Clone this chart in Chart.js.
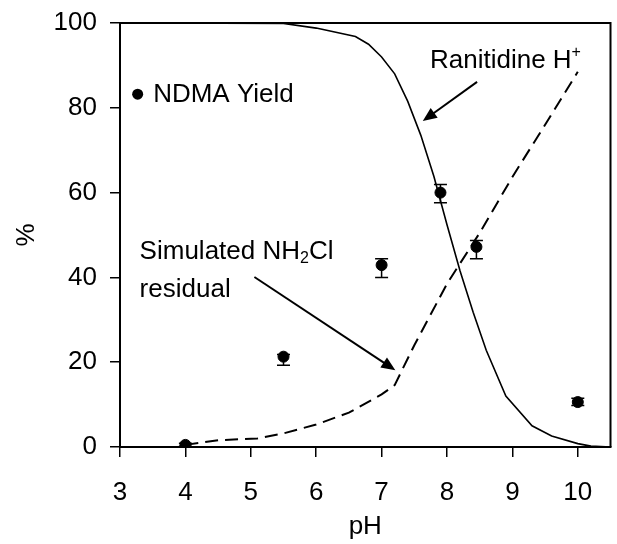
<!DOCTYPE html>
<html>
<head>
<meta charset="utf-8">
<script src="https://cdn.jsdelivr.net/npm/chart.js@4.4.1/dist/chart.umd.min.js"></script>
<style>
  html, body { margin: 0; padding: 0; background: #fff; }
  #chart { display: block; }
</style>
</head>
<body>
<canvas id="chart" width="617" height="544"></canvas>
<script>
// NDMA yield measurements (with error bar limits)
var ndmaPh = [4, 5.5, 7, 7.9, 8.45, 10];
var ndmaYield = [0.5, 21.3, 42.9, 60.0, 47.2, 10.6];
var ndmaHigh = [0.9, 21.8, 44.4, 61.9, 48.7, 11.5];
var ndmaLow = [0.2, 19.3, 40.0, 57.6, 44.4, 9.8];

// Ranitidine H+ fraction
var ranitidinePh = [3.6, 5.5, 6.0, 6.6, 6.8, 7.0, 7.2, 7.4, 7.6, 7.8, 8.0, 8.2, 8.4, 8.6, 8.9, 9.3, 9.6, 10.0, 10.2, 10.5];
var ranitidineH = [100, 99.9, 98.8, 96.8, 95, 92, 88, 81.5, 73.5, 63.8, 52.4, 41.5, 31.8, 22.8, 12, 5, 2.6, 0.8, 0.2, 0];

// Simulated NH2Cl residual
var nh2clPh = [4, 4.5, 5.1, 5.5, 6, 6.5, 7, 7.2, 7.5, 8, 8.5, 9, 9.5, 10];
var nh2clResidual = [0.5, 1.6, 2.0, 3.2, 5.3, 8.1, 12.4, 14.6, 24, 38.5, 50.5, 63.7, 76, 88.5];

var xTicks = [3, 4, 5, 6, 7, 8, 9, 10];
var yTicks = [0, 20, 40, 60, 80, 100];

var FONT = '"Liberation Sans", Arial, sans-serif';

function toPoints(xs, ys) {
  return xs.map(function (x, i) { return { x: x, y: ys[i] }; });
}

function arrow(ctx, x1, y1, x2, y2) {
  var a = Math.atan2(y2 - y1, x2 - x1);
  var len = 14, w = 6;
  ctx.beginPath();
  ctx.moveTo(x1, y1);
  ctx.lineTo(x2 - Math.cos(a) * len * 0.7, y2 - Math.sin(a) * len * 0.7);
  ctx.stroke();
  ctx.beginPath();
  ctx.moveTo(x2, y2);
  ctx.lineTo(x2 - len * Math.cos(a) + w * Math.sin(a), y2 - len * Math.sin(a) - w * Math.cos(a));
  ctx.lineTo(x2 - len * Math.cos(a) - w * Math.sin(a), y2 - len * Math.sin(a) + w * Math.cos(a));
  ctx.closePath();
  ctx.fill();
}

// draw text runs: [text, size, dy]
function runs(ctx, parts, x, y) {
  parts.forEach(function (p) {
    ctx.font = p[1] + "px " + FONT;
    ctx.fillText(p[0], x, y + p[2]);
    x += ctx.measureText(p[0]).width;
  });
}

var errorBars = {
  id: "errorBars",
  beforeDatasetsDraw: function (chart) {
    var ctx = chart.ctx, xs = chart.scales.x, ys = chart.scales.y;
    ctx.save();
    ctx.strokeStyle = "#000";
    ctx.lineWidth = 1.5;
    ndmaPh.forEach(function (ph, i) {
      var x = xs.getPixelForValue(ph);
      var top = ys.getPixelForValue(ndmaHigh[i]);
      var bot = ys.getPixelForValue(ndmaLow[i]);
      ctx.beginPath();
      ctx.moveTo(x, top); ctx.lineTo(x, bot);
      ctx.moveTo(x - 6.5, top); ctx.lineTo(x + 6.5, top);
      ctx.moveTo(x - 6.5, bot); ctx.lineTo(x + 6.5, bot);
      ctx.stroke();
    });
    ctx.restore();
  }
};

var annotations = {
  id: "annotations",
  afterDraw: function (chart) {
    var ctx = chart.ctx, xs = chart.scales.x, ys = chart.scales.y, a = chart.chartArea;
    function X(v) { return xs.getPixelForValue(v); }
    function Y(v) { return ys.getPixelForValue(v); }
    ctx.save();
    // top and right frame
    ctx.strokeStyle = "#000";
    ctx.lineWidth = 2;
    ctx.beginPath();
    ctx.moveTo(a.left, a.top); ctx.lineTo(a.right, a.top); ctx.lineTo(a.right, a.bottom);
    ctx.stroke();

    ctx.fillStyle = "#000";
    ctx.textBaseline = "alphabetic";
    ctx.textAlign = "left";

    // legend
    ctx.beginPath();
    ctx.arc(X(3.27), Y(83.2), 5.5, 0, Math.PI * 2);
    ctx.fill();
    runs(ctx, [["NDMA Yield", 26, 0]], X(3.507), Y(81.4));

    // Ranitidine H+
    runs(ctx, [["Ranitidine H", 26, 0], ["+", 16, -11]], X(7.74), Y(89.3));
    ctx.lineWidth = 2;
    arrow(ctx, X(8.46), Y(86.1), X(7.63), Y(76.9));

    // Simulated NH2Cl residual
    runs(ctx, [["Simulated NH", 26, 0], ["2", 16, 4], ["Cl", 26, 0]], X(3.3), Y(44.3));
    runs(ctx, [["residual", 26, 0]], X(3.3), Y(35.4));
    arrow(ctx, X(5.055), Y(40.1), X(7.21), Y(18.1));
    ctx.restore();
  }
};

var ctx = document.getElementById("chart").getContext("2d");
new Chart(ctx, {
  type: "scatter",
  data: {
    datasets: [
      {
        label: "NDMA Yield",
        data: toPoints(ndmaPh, ndmaYield),
        backgroundColor: "#000",
        borderColor: "#000",
        pointRadius: 5.5,
        pointHoverRadius: 5.5,
        showLine: false,
        order: 0
      },
      {
        label: "Ranitidine H+",
        data: toPoints(ranitidinePh, ranitidineH),
        borderColor: "#000",
        borderWidth: 1.6,
        pointRadius: 0,
        showLine: true,
        fill: false,
        order: 2
      },
      {
        label: "Simulated NH2Cl residual",
        data: toPoints(nh2clPh, nh2clResidual),
        borderColor: "#000",
        borderWidth: 2,
        borderDash: [13, 7],
        pointRadius: 0,
        showLine: true,
        fill: false,
        order: 1
      }
    ]
  },
  options: {
    responsive: false,
    animation: false,
    events: [],
    layout: { padding: { top: 23, right: 5, left: 0, bottom: 0 } },
    plugins: {
      legend: { display: false },
      tooltip: { enabled: false }
    },
    scales: {
      x: {
        type: "linear",
        min: 3,
        max: 10.5,
        afterBuildTicks: function (scale) {
          scale.ticks = xTicks.map(function (v) { return { value: v }; });
        },
        afterFit: function (scale) {
          scale.height = 97;
          scale.paddingLeft = 0;
          scale.paddingRight = 0;
        },
        ticks: { color: "#000", font: { family: FONT, size: 26 }, padding: 20, maxRotation: 0 },
        grid: { drawOnChartArea: false, tickLength: 10, color: "#000", lineWidth: 1.5 },
        border: { display: true, color: "#000", width: 2 },
        title: { display: true, text: "pH", color: "#000", font: { family: FONT, size: 26 }, padding: { top: 0, bottom: 2 } }
      },
      y: {
        type: "linear",
        min: 0,
        max: 100,
        afterBuildTicks: function (scale) {
          scale.ticks = yTicks.map(function (v) { return { value: v }; });
        },
        afterFit: function (scale) {
          scale.width = 120;
          scale.paddingTop = 0;
          scale.paddingBottom = 0;
        },
        ticks: { color: "#000", font: { family: FONT, size: 26 }, padding: 13 },
        grid: { drawOnChartArea: false, tickLength: 10, color: "#000", lineWidth: 1.5 },
        border: { display: true, color: "#000", width: 2 },
        title: { display: true, text: "%", color: "#000", font: { family: FONT, size: 26 }, padding: { top: 11, bottom: 0 } }
      }
    }
  },
  plugins: [errorBars, annotations]
});
</script>
</body>
</html>
